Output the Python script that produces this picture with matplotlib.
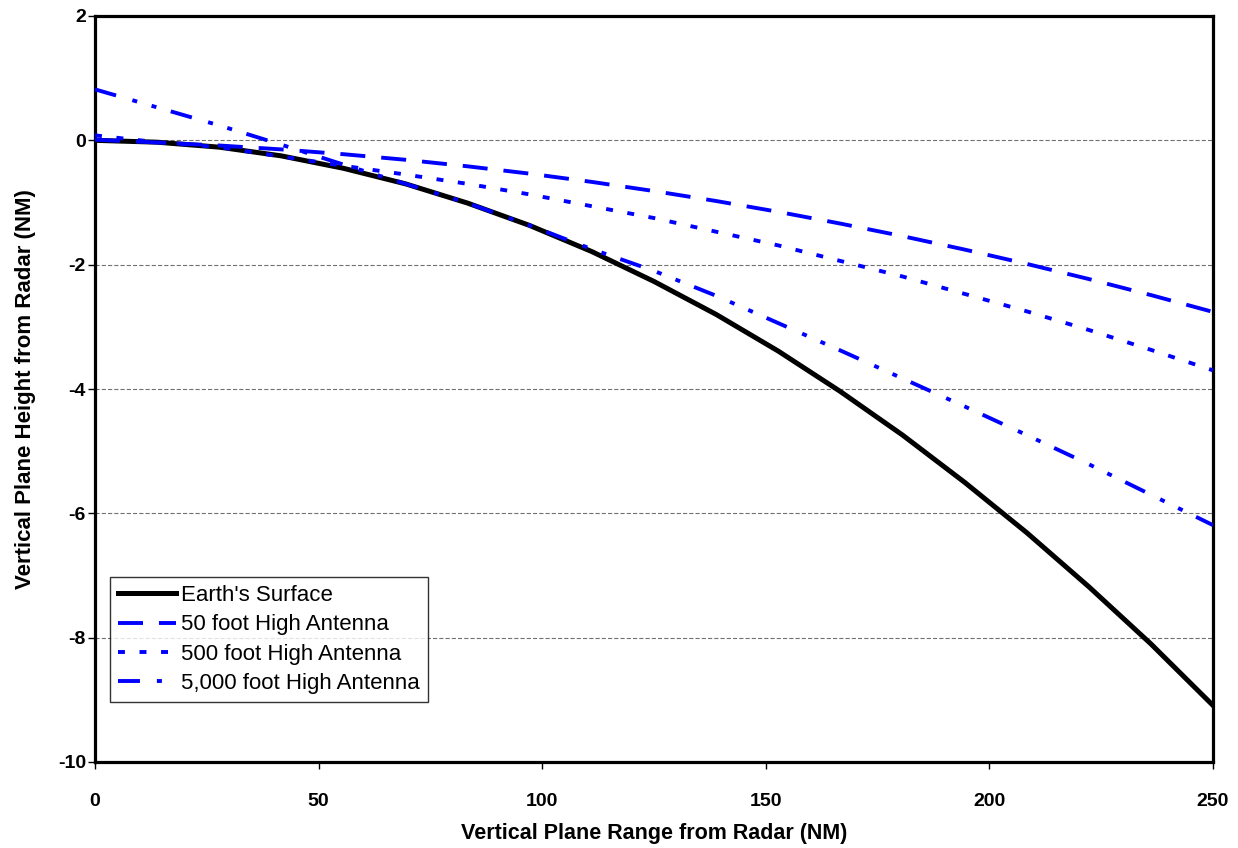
import matplotlib
matplotlib.use("Agg")
import matplotlib.pyplot as plt
import numpy as np

plt.rcParams['font.family'] = ['Liberation Sans', 'DejaVu Sans']
plt.rcParams['lines.scale_dashes'] = False

# Data (NM)
range_nm = [0, 13.89, 27.78, 41.67, 55.56, 69.44, 83.33, 97.22, 111.11, 125.0,
            138.89, 152.78, 166.67, 180.56, 194.44, 208.33, 222.22, 236.11, 250.0]
earth = [0, -0.03, -0.11, -0.25, -0.45, -0.70, -1.01, -1.37, -1.79, -2.27,
         -2.80, -3.39, -4.04, -4.74, -5.50, -6.31, -7.18, -8.10, -9.09]
ant_50 = [0.01, -0.035, -0.083, -0.146, -0.223, -0.313, -0.418, -0.536, -0.669, -0.816,
          -0.976, -1.150, -1.339, -1.541, -1.757, -1.987, -2.231, -2.489, -2.76]
ant_500 = [0.08, -0.03, -0.11, -0.26, -0.41, -0.55, -0.70, -0.87, -1.06, -1.25,
           -1.47, -1.69, -1.94, -2.19, -2.47, -2.75, -3.05, -3.37, -3.70]
ant_5000 = [0.82, 0.53, 0.24, -0.07, -0.39, -0.70, -1.01, -1.37, -1.75, -2.10,
            -2.50, -2.94, -3.38, -3.83, -4.28, -4.74, -5.21, -5.70, -6.19]

labels = ["Earth's Surface", "50 foot High Antenna", "500 foot High Antenna",
          "5,000 foot High Antenna"]
xticks = [0, 50, 100, 150, 200, 250]
yticks = [2, 0, -2, -4, -6, -8, -10]

fig = plt.figure(figsize=(12.38, 8.48), dpi=100)
ax = fig.add_axes([95/1238, 1-762/848, (1213-95)/1238, (762-16)/848])

blue = '#0000FF'
ax.plot(range_nm, earth, color='black', lw=3.6, solid_joinstyle='miter', label=labels[0], zorder=3)
l1, = ax.plot(range_nm, ant_50, color=blue, lw=2.8, label=labels[1], zorder=4)
l1.set_dashes((18, 11.5))
l2, = ax.plot(range_nm, ant_500, color=blue, lw=2.8, label=labels[2], zorder=4)
l2.set_dashes((5, 10.5))
l3, = ax.plot(range_nm, ant_5000, color=blue, lw=2.8, label=labels[3], zorder=4)
l3.set_dashes((15.8, 12.2, 3.6, 10.8, 3.6, 10.8))
for l in (l1, l2, l3):
    l.set_dash_capstyle('butt')

ax.set_xlim(0, 250)
ax.set_ylim(-10, 2)
ax.set_xticks(xticks)
ax.set_yticks(yticks)
ax.set_xticklabels([str(t) for t in xticks], fontsize=14, fontweight='bold')
ax.set_yticklabels([str(t) for t in yticks], fontsize=14, fontweight='bold')
ax.tick_params(axis='x', direction='out', length=5, width=1, pad=17)
ax.tick_params(axis='y', direction='out', length=5, width=1, pad=1.5)

for y in [0, -2, -4, -6, -8]:
    ax.axhline(y, color='#707070', lw=0.8, ls=(0, (3, 1.5)), zorder=1)

for s in ax.spines.values():
    s.set_linewidth(2.3)
    s.set_color('black')

ax.set_xlabel("Vertical Plane Range from Radar (NM)", fontsize=15.5, fontweight='bold', labelpad=10)
ax.set_ylabel("Vertical Plane Height from Radar (NM)", fontsize=16, fontweight='bold', labelpad=16)

leg = ax.legend(loc='lower left', bbox_to_anchor=((110-95)/1118, (762-702)/746),
                fontsize=16, frameon=True, fancybox=False, edgecolor='black',
                handlelength=2.6, handletextpad=0.25, borderpad=0.35, labelspacing=0.38,
                borderaxespad=0)
leg.get_frame().set_linewidth(1.0)

fig.savefig('out.png', dpi=100)
